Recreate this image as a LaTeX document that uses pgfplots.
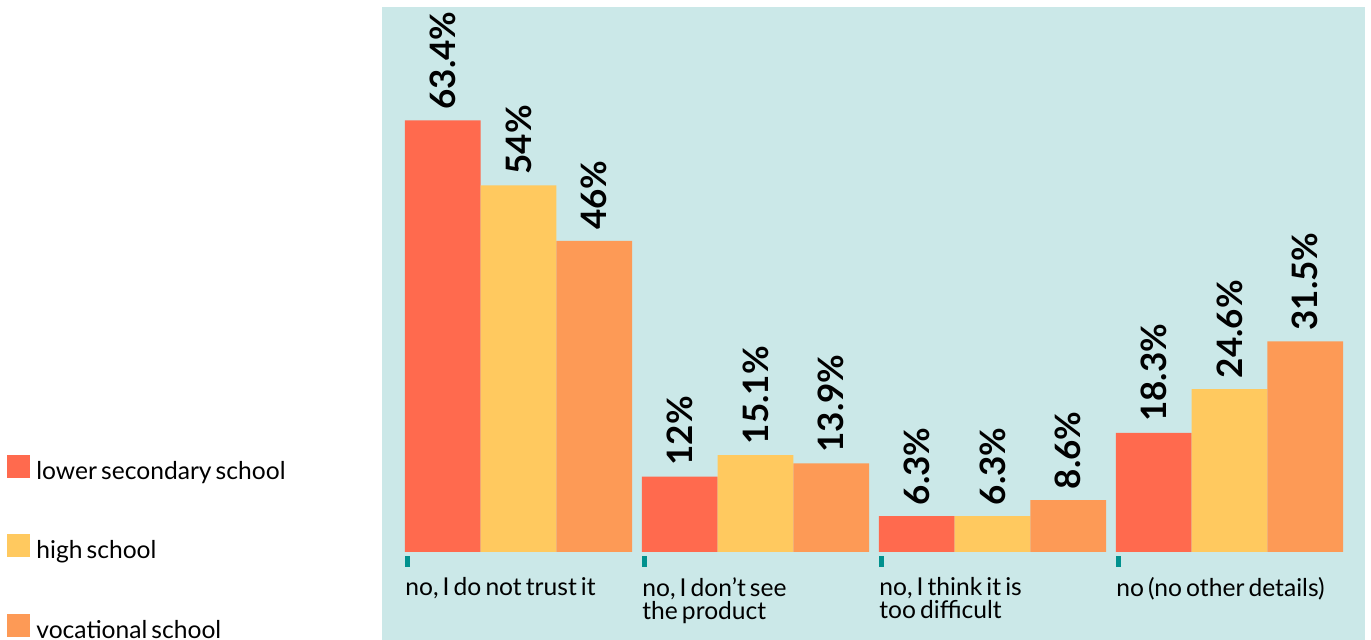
\documentclass[border=0pt]{standalone}
\usepackage{pgfplots}
\pgfplotsset{compat=1.18}
\usepackage{fontspec}
\setmainfont{Lato}[WordSpace=0.65]
\definecolor{cA}{HTML}{FF6A4E}
\definecolor{cB}{HTML}{FFC95F}
\definecolor{cC}{HTML}{FD9A56}
\definecolor{bg}{HTML}{CBE8E8}
\definecolor{tk}{HTML}{00918E}
\begin{document}
\begin{tikzpicture}
\useasboundingbox (0,0) rectangle (685.5pt,320pt);
\clip (0,0) rectangle (685.5pt,320pt);
\fill[bg] (191pt,0pt) rectangle (682.5pt,316.5pt);
\begin{axis}[
  at={(191pt,44pt)}, anchor=south west,
  scale only axis, width=491.5pt, height=272.5pt,
  xmin=-0.576, xmax=3.572, ymin=1.11, ymax=79.75,
  axis line style={draw=none},
  ytick=\empty,
  xtick={-0.4685,0.5315,1.5315,2.5315},
  xticklabels={{no, I do not trust it},{no, I don't see\\the product},{no, I think it is\\too difficult},{no (no other details)}},
  xtick pos=bottom, tick align=outside, major tick length=5.5pt,
  xtick style={draw=tk, line width=2.5pt, yshift=-2pt},
  xticklabel style={anchor=north west, align=left, font=\fontsize{12.3}{11.5}\selectfont, inner sep=0pt, xshift=-1.25pt, yshift=-7pt},
  ybar, bar width=37.85pt,
  nodes near coords={\pgfmathprintnumber[assume math mode=true]{\pgfplotspointmeta}\%},
  every node near coord/.append style={rotate=90, anchor=west, font=\fontsize{17.5}{17.5}\bfseries\selectfont, inner sep=0pt, outer sep=5.5pt, text=black},
  legend style={at={(axis description cs:-0.3815,0.1791)}, anchor=north west, draw=none, fill=none, inner sep=0pt, row sep=24pt, font=\fontsize{12.3}{11.5}\selectfont, /tikz/every odd column/.append style={column sep=1pt}},
  legend cell align=left,
  legend image code/.code={\fill[#1] (0pt,-3pt) rectangle (11.5pt,8.5pt);},
]
\addplot[fill=cA, draw=none, bar shift=-37.85pt] coordinates {(0,63.4) (1,12) (2,6.3) (3,18.3)};
\addlegendentry{lower secondary school}
\addplot[fill=cB, draw=none, bar shift=0pt] coordinates {(0,54) (1,15.1) (2,6.3) (3,24.6)};
\addlegendentry{high school}
\addplot[fill=cC, draw=none, bar shift=37.85pt] coordinates {(0,46) (1,13.9) (2,8.6) (3,31.5)};
\addlegendentry{vocational school}
\end{axis}
\end{tikzpicture}
\end{document}
